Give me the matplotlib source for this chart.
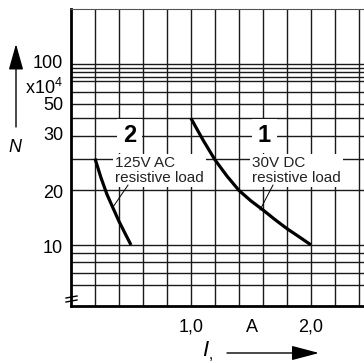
import matplotlib
matplotlib.use("Agg")
import matplotlib.pyplot as plt
import matplotlib.transforms as mtransforms
import numpy as np

plt.rcParams['font.family'] = ['Liberation Sans', 'DejaVu Sans']
plt.rcParams['mathtext.fontset'] = 'custom'
plt.rcParams['mathtext.rm'] = 'Liberation Sans'
plt.rcParams['mathtext.it'] = 'Liberation Sans:italic'

# curve 1: 30V DC resistive load
i_dc = [1.0, 1.1, 1.2, 1.3, 1.4, 1.5, 1.6, 1.7, 1.8, 1.9, 2.0]
n_dc = [50, 38, 29.5, 24, 20, 17.5, 15.6, 13.8, 12.3, 11.1, 10]
# curve 2: 125V AC resistive load
i_ac = [0.2, 0.25, 0.3, 0.35, 0.4, 0.45, 0.5]
n_ac = [30, 23.5, 19, 16, 13.5, 11.6, 10]

# grid
x_grid = np.arange(0.2, 2.41, 0.2)
y_grid = [6, 7, 8, 9, 10, 20, 30, 40, 50, 60, 70, 80, 85, 90, 95, 100]

x_tick_pos = [1.0, 1.51, 2.0]
x_tick_lab = ['1,0', 'A', '2,0']
y_lab_pos = [100, 59, 40, 19.2, 9.5]
y_lab_txt = ['100', '50', '30', '20', '10']

W, H = 364, 363
fig = plt.figure(figsize=(W / 100, H / 100), dpi=100, facecolor='white')
ax = fig.add_axes([71 / W, 57 / H, (W - 71) / W, (306 - 9) / H])
ax.set_yscale('log')
ax.set_xlim(0, (W - 71) / 120)
ax.set_ylim(4.6, 201)

for xv in x_grid:
    ax.axvline(xv, color='#1a1a1a', lw=1.0, zorder=1)
for yv in y_grid:
    ax.axhline(yv, color='#1a1a1a', lw=1.0, zorder=1)

ax.plot(i_dc, n_dc, color='black', lw=2.3, zorder=4, solid_capstyle='butt')
ax.plot(i_ac, n_ac, color='black', lw=2.3, zorder=4, solid_capstyle='butt')

for s in ['left', 'bottom']:
    ax.spines[s].set_linewidth(2.0)
ax.spines['top'].set_linewidth(0.8)
ax.spines['top'].set_color('#555555')
ax.spines['right'].set_visible(False)

ax.set_xticks(x_tick_pos)
ax.set_xticklabels(x_tick_lab, fontsize=13)
ax.set_yticks([])
ax.minorticks_off()
ax.tick_params(axis='x', length=0, pad=9)
ax.yaxis.set_minor_locator(matplotlib.ticker.NullLocator())

trans = mtransforms.blended_transform_factory(fig.transFigure, ax.transData)
for yv, t in zip(y_lab_pos, y_lab_txt):
    ax.text(63 / W, yv, t, transform=trans, ha='right', va='center', fontsize=13)
fig.text(63 / W, 1 - 88 / H, r'x10$^{4}$', ha='right', va='center', fontsize=13)

# curve numbers and descriptions
box = dict(facecolor='white', edgecolor='none', boxstyle='square,pad=0.25')
ax.text(0.49, 40, '2', fontsize=17, fontweight='bold', ha='center', va='center',
        bbox=box, zorder=3)
ax.text(1.61, 40, '1', fontsize=17, fontweight='bold', ha='center', va='center',
        bbox=box, zorder=3)
ax.text(0.37, 30.8, '125V AC\nresistive load', fontsize=11, ha='left', va='top',
        linespacing=1.05, color='#222222',
        bbox=dict(facecolor='white', edgecolor='none', boxstyle='square,pad=0.15'),
        zorder=3)
ax.text(1.51, 30.8, '30V DC\nresistive load', fontsize=11, ha='left', va='top',
        linespacing=1.05, color='#222222',
        bbox=dict(facecolor='white', edgecolor='none', boxstyle='square,pad=0.15'),
        zorder=3)
ax.plot([0.475, 0.35], [21.4, 16.2], color='black', lw=0.7, zorder=3)
ax.plot([1.683, 1.575], [21.4, 15.6], color='black', lw=0.7, zorder=3)

# axis break mark
for dy in (297, 301):
    fig.add_artist(plt.Line2D([66 / W, 77 / W], [1 - (dy + 1) / H, 1 - (dy - 1) / H],
                              color='black', lw=1.0))

# axis names with arrows
fig.text(15 / W, 1 - 147 / H, 'N', fontsize=13, style='italic', ha='center', va='center')
fig.text(207 / W, 1 - 352 / H, r'$I_{,}$', fontsize=16, ha='center', va='center')
ax.annotate('', xy=(16 / W, 1 - 44 / H), xytext=(16 / W, 1 - 127 / H),
            xycoords='figure fraction', textcoords='figure fraction',
            arrowprops=dict(arrowstyle='-|>,head_length=1.6,head_width=0.45',
                            color='black', lw=1.0, shrinkA=0, shrinkB=0,
                            mutation_scale=10))
ax.annotate('', xy=(319 / W, 1 - 353 / H), xytext=(227 / W, 1 - 353 / H),
            xycoords='figure fraction', textcoords='figure fraction',
            arrowprops=dict(arrowstyle='-|>,head_length=1.7,head_width=0.45',
                            color='black', lw=1.0, shrinkA=0, shrinkB=0,
                            mutation_scale=10))

fig.savefig('out.png', dpi=100, facecolor='white')
